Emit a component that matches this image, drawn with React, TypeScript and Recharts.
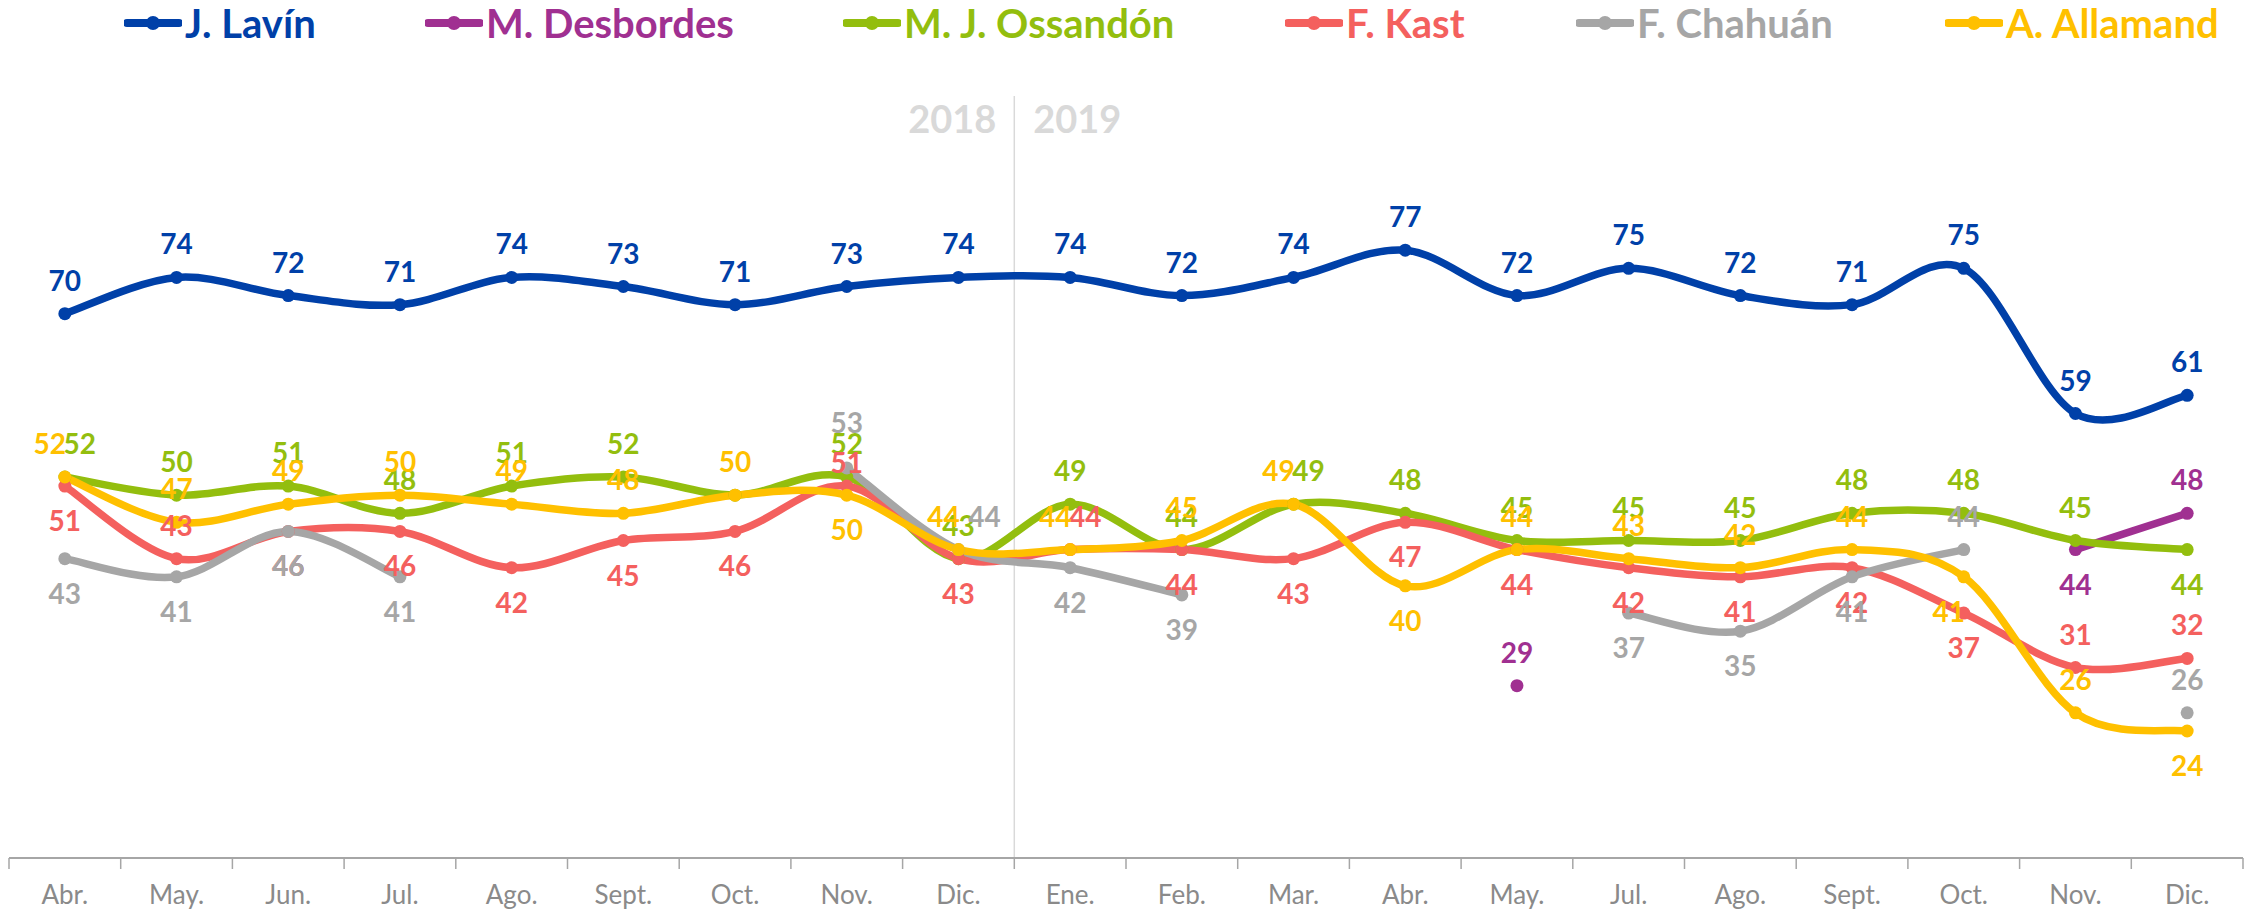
import { Line, LineChart, ReferenceLine, XAxis, YAxis } from "recharts";

const W = 2255;
const H = 912;
const AXIS_H = 30;
const M = { top: 96, right: 12, bottom: 24, left: 9 };
const FONT = 'Lato, "Open Sans", Arial, sans-serif';

// months, Apr 2018 .. Dec 2019 (no June 2019 survey)
const months = [
  "Abr.", "May.", "Jun.", "Jul.", "Ago.", "Sept.", "Oct.", "Nov.", "Dic.",
  "Ene.", "Feb.", "Mar.", "Abr.", "May.", "Jul.", "Ago.", "Sept.", "Oct.", "Nov.", "Dic."
];

const lavin = [70, 74, 72, 71, 74, 73, 71, 73, 74, 74, 72, 74, 77, 72, 75, 72, 71, 75, 59, 61];
const desbordes = [null, null, null, null, null, null, null, null, null, null, null, null, null, 29, null, null, null, null, 44, 48];
const ossandon = [52, 50, 51, 48, 51, 52, 50, 52, 43, 49, 44, 49, 48, 45, 45, 45, 48, 48, 45, 44];
const kast = [51, 43, 46, 46, 42, 45, 46, 51, 43, 44, 44, 43, 47, 44, 42, 41, 42, 37, 31, 32];
const chahuan = [43, 41, 46, 41, null, null, null, 53, 44, 42, 39, null, null, null, 37, 35, 41, 44, null, 26];
const allamand = [52, 47, 49, 50, 49, 48, 50, 50, 44, 44, 45, 49, 40, 44, 43, 42, 44, 41, 26, 24];

// label placement: t = above, b = below, u = higher, n = close above,
// l/r = nudge sideways, R = far right, h = hidden
const lavinPos = months.map(() => "t");
const desbordesPos = months.map((_, i) => (i === 18 ? "b" : "t"));
const ossandonPos = ["tr", "t", "t", "t", "t", "t", "h", "t", "t", "t", "t", "tr", "t", "t", "t", "t", "t", "t", "t", "b"];
const kastPos = ["b", "t", "b", "b", "b", "b", "b", "n", "b", "tr", "b", "b", "b", "b", "b", "b", "b", "b", "t", "t"];
const chahuanPos = ["b", "b", "b", "b", "t", "t", "t", "u", "tR", "b", "b", "t", "t", "t", "b", "b", "b", "t", "t", "t"];
const allamandPos = ["tl", "t", "t", "t", "t", "t", "t", "b", "tl", "tl", "t", "tl", "b", "t", "t", "t", "t", "bl", "t", "b"];

const data = months.map((m, i) => ({
  i,
  m,
  lavin: lavin[i],
  desbordes: desbordes[i],
  ossandon: ossandon[i],
  kast: kast[i],
  chahuan: chahuan[i],
  allamand: allamand[i]
}));

const series = [
  { key: "lavin", name: "J. Lavín", color: "#0040a8", pos: lavinPos, lx: 124 },
  { key: "desbordes", name: "M. Desbordes", color: "#a03091", pos: desbordesPos, lx: 425 },
  { key: "ossandon", name: "M. J. Ossandón", color: "#93be0e", pos: ossandonPos, lx: 843 },
  { key: "kast", name: "F. Kast", color: "#f4605e", pos: kastPos, lx: 1285 },
  { key: "chahuan", name: "F. Chahuán", color: "#a6a6a6", pos: chahuanPos, lx: 1576 },
  { key: "allamand", name: "A. Allamand", color: "#ffc000", pos: allamandPos, lx: 1945 }
];

// Excel-like smoothing (uniform Catmull-Rom as cubic beziers)
const excelCurve = (context: any) => {
  let pts: number[][] = [];
  return {
    areaStart() {},
    areaEnd() {},
    lineStart() {
      pts = [];
    },
    point(x: number, y: number) {
      pts.push([+x, +y]);
    },
    lineEnd() {
      const n = pts.length;
      if (!n) return;
      context.moveTo(pts[0][0], pts[0][1]);
      for (let i = 0; i < n - 1; i++) {
        const p0 = pts[i - 1] || pts[i];
        const p1 = pts[i];
        const p2 = pts[i + 1];
        const p3 = pts[i + 2] || p2;
        context.bezierCurveTo(
          p1[0] + (p2[0] - p0[0]) / 6,
          p1[1] + (p2[1] - p0[1]) / 6,
          p2[0] - (p3[0] - p1[0]) / 6,
          p2[1] - (p3[1] - p1[1]) / 6,
          p2[0],
          p2[1]
        );
      }
    }
  };
};

const makeLabel = (color: string, pos: string[]) => (p: any) => {
  const { value, index } = p;
  if (value == null) return null;
  const x = p.x ?? p.viewBox?.x;
  const y = p.y ?? p.viewBox?.y;
  const mode = pos[index] ?? "t";
  if (mode === "h") return null;
  let dx = 0;
  let dy = -34;
  if (mode.includes("b")) dy = 34;
  if (mode.includes("u")) dy = -46;
  if (mode.includes("n")) dy = -24;
  if (mode.includes("l")) dx = -15;
  if (mode.includes("r")) dx = 15;
  if (mode.includes("R")) dx = 26;
  return (
    <text
      key={`l-${index}`}
      x={x + dx}
      y={y + dy}
      fill={color}
      fontSize={28}
      fontWeight="bold"
      fontFamily={FONT}
      textAnchor="middle"
      dominantBaseline="central"
    >
      {value}
    </text>
  );
};

const bandW = (W - M.left - M.right) / months.length;

const MonthTick = (props: any) => {
  const { x, payload, index } = props;
  const axisY = H - M.bottom - AXIS_H;
  return (
    <g>
      <line x1={x - bandW / 2} y1={axisY} x2={x - bandW / 2} y2={axisY + 11} stroke="#a6a6a6" strokeWidth={1.5} />
      {index === months.length - 1 && (
        <line x1={x + bandW / 2} y1={axisY} x2={x + bandW / 2} y2={axisY + 11} stroke="#a6a6a6" strokeWidth={1.5} />
      )}
      <text
        x={x}
        y={axisY + 36}
        fill="#8a8a8a"
        fontSize={26}
        fontFamily={FONT}
        textAnchor="middle"
        dominantBaseline="central"
      >
        {months[payload.value]}
      </text>
    </g>
  );
};

const YearLabels = (props: any) => {
  const { viewBox } = props;
  const x = viewBox.x;
  const y = viewBox.y + 22;
  const style = { fill: "#d9d9d9", fontSize: 38, fontWeight: "bold", fontFamily: FONT } as any;
  return (
    <g>
      <text x={x - 62} y={y} textAnchor="middle" dominantBaseline="central" style={style}>2018</text>
      <text x={x + 63} y={y} textAnchor="middle" dominantBaseline="central" style={style}>2019</text>
    </g>
  );
};

function LegendRow() {
  return (
    <div style={{ position: "absolute", left: 0, top: 0, width: W, height: 48 }}>
      {series.map((s) => (
        <div
          key={s.key}
          style={{
            position: "absolute",
            left: s.lx,
            top: 0,
            height: 46,
            display: "flex",
            alignItems: "center",
            fontFamily: FONT,
            fontWeight: "bold",
            fontSize: 40,
            color: s.color,
            whiteSpace: "nowrap"
          }}
        >
          <svg width={58} height={20} style={{ marginRight: 3 }}>
            <line x1={3} y1={10} x2={55} y2={10} stroke={s.color} strokeWidth={8} strokeLinecap="round" />
            <circle cx={29} cy={10} r={7} fill={s.color} />
          </svg>
          {s.name}
        </div>
      ))}
    </div>
  );
}

export default function App() {
  return (
    <div style={{ position: "absolute", left: 0, top: 0, width: W, height: H, background: "#fff" }}>
      <LineChart width={W} height={H} data={data} margin={M}>
        <XAxis
          dataKey="i"
          type="category"
          scale="band"
          height={AXIS_H}
          interval={0}
          tickLine={false}
          tickSize={0}
          tickMargin={0}
          axisLine={{ stroke: "#a6a6a6", strokeWidth: 2 }}
          tick={<MonthTick />}
        />
        <YAxis hide domain={[10, 94]} allowDataOverflow />
        <ReferenceLine x={9} position="start" stroke="#d9d9d9" strokeWidth={1.5} label={<YearLabels />} />
        {series.map((s) => (
          <Line
            key={s.key}
            dataKey={s.key}
            name={s.name}
            type={excelCurve as any}
            stroke={s.color}
            strokeWidth={7.5}
            dot={{ r: 6.5, fill: s.color, stroke: s.color, strokeWidth: 0 }}
            activeDot={false}
            label={makeLabel(s.color, s.pos)}
            isAnimationActive={false}
          />
        ))}
      </LineChart>
      <LegendRow />
    </div>
  );
}
